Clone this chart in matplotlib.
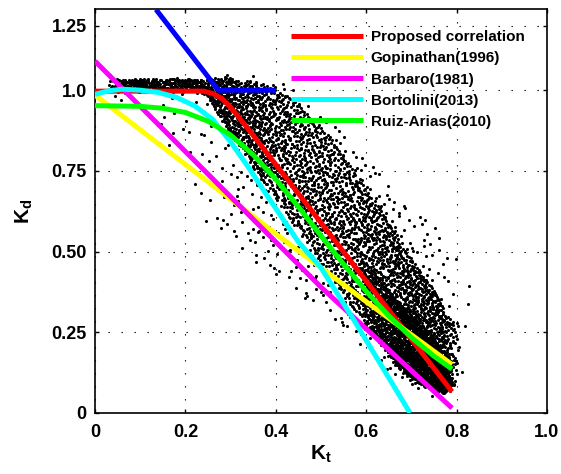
import numpy as np
import matplotlib
matplotlib.use("Agg")
import matplotlib.pyplot as plt

plt.rcParams['font.family'] = ['Liberation Sans', 'DejaVu Sans']
plt.rcParams['mathtext.fontset'] = 'custom'
plt.rcParams['mathtext.rm'] = 'Liberation Sans:bold'
plt.rcParams['mathtext.bf'] = 'Liberation Sans:bold'
plt.rcParams['mathtext.it'] = 'Liberation Sans:bold'

# ---------------- correlation curves ----------------
prop_kt = [0.0, 0.24, 0.26, 0.28, 0.30, 0.32, 0.35, 0.79]
prop_kd = [0.997, 0.997, 0.99, 0.975, 0.947, 0.913, 0.86, 0.066]

gop_kt = [0.0, 0.2, 0.4, 0.6, 0.79]
gop_kd = [0.985, 0.77, 0.555, 0.345, 0.15]

bar_kt = [0.0, 0.3, 0.5, 0.79]
bar_kd = [1.09, 0.67, 0.39, 0.015]

bor_kt = [0.0, 0.03, 0.06, 0.10, 0.14, 0.18, 0.22, 0.26, 0.30, 0.34, 0.38, 0.45, 0.50, 0.572, 0.697]
bor_kd = [0.987, 0.998, 1.003, 1.0, 0.993, 0.978, 0.952, 0.91, 0.84, 0.76, 0.675, 0.53, 0.45, 0.29, 0.0]

ruiz_kt = [0.0, 0.10, 0.15, 0.20, 0.25, 0.30, 0.35, 0.40, 0.45, 0.50, 0.55, 0.60, 0.65, 0.70, 0.75, 0.79]
ruiz_kd = [0.952, 0.950, 0.944, 0.931, 0.904, 0.861, 0.800, 0.724, 0.639, 0.549, 0.461, 0.377, 0.301, 0.234, 0.176, 0.136]

limit_kt = [0.135, 0.273, 0.40]
limit_kd = [1.25, 1.0, 1.0]

labels = ['Proposed correlation', 'Gopinathan(1996)', 'Barbaro(1981)',
          'Bortolini(2013)', 'Ruiz-Arias(2010)']
colors = ['#ff0000', '#ffff00', '#ff00ff', '#00ffff', '#00ff00']

# ---------------- scatter density (estimated per Kt column, 0.02 wide) ----------------
col_kt = [0.03, 0.05, 0.07, 0.09, 0.11, 0.13, 0.15, 0.17, 0.19, 0.21, 0.23, 0.25,
          0.27, 0.29, 0.31, 0.33, 0.35, 0.37, 0.39, 0.41, 0.43, 0.45, 0.47, 0.49,
          0.51, 0.53, 0.55, 0.57, 0.59, 0.61, 0.63, 0.65, 0.67, 0.69, 0.71, 0.73,
          0.75, 0.77, 0.79, 0.81, 0.83]
core_lo = [0.995, 0.995, 0.995, 0.995, 0.995, 0.995, 0.995, 0.995, 0.995, 0.995, 0.99, 0.98,
           0.93, 0.88, 0.84, 0.80, 0.76, 0.72, 0.68, 0.64, 0.60, 0.56, 0.52, 0.48,
           0.44, 0.40, 0.36, 0.32, 0.28, 0.25, 0.21, 0.17, 0.14, 0.11, 0.09, 0.08,
           0.07, 0.06, 0.07, 0.10, 0.20]
core_hi = [1.03, 1.035, 1.035, 1.035, 1.035, 1.035, 1.035, 1.035, 1.035, 1.035, 1.035, 1.035,
           1.04, 1.04, 1.035, 1.03, 1.03, 1.02, 1.02, 1.00, 0.98, 0.96, 0.93, 0.90,
           0.87, 0.84, 0.80, 0.76, 0.72, 0.68, 0.64, 0.60, 0.55, 0.50, 0.46, 0.42,
           0.38, 0.33, 0.28, 0.30, 0.30]
core_n = [6, 20, 30, 32, 32, 32, 32, 32, 32, 32, 32, 40,
          65, 80, 90, 95, 95, 95, 90, 88, 85, 85, 85, 85,
          90, 90, 95, 100, 105, 110, 115, 120, 130, 140, 150, 150,
          140, 110, 45, 4, 0]
halo_lo = [0.97, 0.97, 0.97, 0.97, 0.97, 0.88, 0.85, 0.80, 0.75, 0.68, 0.62, 0.58,
           0.56, 0.54, 0.52, 0.50, 0.47, 0.45, 0.43, 0.42, 0.40, 0.37, 0.35, 0.33,
           0.31, 0.28, 0.25, 0.22, 0.19, 0.16, 0.14, 0.12, 0.10, 0.08, 0.07, 0.06,
           0.05, 0.05, 0.05, 0.08, 0.15]
halo_hi = [1.05, 1.05, 1.05, 1.05, 1.05, 1.05, 1.05, 1.05, 1.05, 1.05, 1.05, 1.05,
           1.05, 1.05, 1.05, 1.05, 1.05, 1.04, 1.04, 1.03, 1.02, 1.00, 0.97, 0.95,
           0.93, 0.90, 0.87, 0.84, 0.80, 0.78, 0.74, 0.70, 0.68, 0.66, 0.62, 0.60,
           0.58, 0.55, 0.50, 0.55, 0.40]
halo_n = [2, 3, 3, 3, 3, 3, 4, 4, 4, 5, 6, 7,
          10, 12, 15, 18, 20, 22, 24, 24, 24, 26, 26, 26,
          26, 26, 26, 26, 26, 26, 26, 26, 24, 22, 20, 18,
          15, 12, 10, 4, 2]
dense_kt = [0.59, 0.61, 0.63, 0.65, 0.67, 0.69, 0.71, 0.73, 0.75, 0.77, 0.79]
dense_lo = [0.28, 0.25, 0.22, 0.18, 0.15, 0.12, 0.10, 0.08, 0.07, 0.06, 0.07]
dense_hi = [0.45, 0.45, 0.42, 0.38, 0.35, 0.32, 0.29, 0.26, 0.23, 0.20, 0.16]
dense_n = [25, 55, 70, 85, 100, 115, 125, 125, 120, 95, 30]

COL_W = 0.02


def tier_density(x, y, centers, los, his, ns):
    """points per unit area of one tier at (x, y), from the column tables"""
    lo = np.interp(x, centers, los)
    hi = np.interp(x, centers, his)
    n = np.interp(x, centers, ns, left=0.0, right=0.0)
    inside = (y >= lo) & (y <= hi)
    return np.where(inside, n / (COL_W * np.maximum(hi - lo, 1e-3)), 0.0)


def radical_inverse(i, base):
    """Halton / van der Corput sequence value for integer array i"""
    i = i.copy()
    out = np.zeros(i.shape, dtype=float)
    f = 1.0
    while np.any(i > 0):
        f /= base
        out += f * (i % base)
        i //= base
    return out


# spread the points of the cells evenly with a Halton sequence (bases 2, 3, 5)
x0, x1 = col_kt[0] - COL_W / 2, col_kt[-1] + COL_W / 2
y0, y1 = 0.0, 1.06
idx = np.arange(1, 90001)
cx = x0 + (x1 - x0) * radical_inverse(idx, 2)
cy = y0 + (y1 - y0) * radical_inverse(idx, 3)
cw = radical_inverse(idx, 5)
dens = (tier_density(cx, cy, col_kt, core_lo, core_hi, core_n)
        + tier_density(cx, cy, col_kt, halo_lo, halo_hi, halo_n)
        + tier_density(cx, cy, dense_kt, dense_lo, dense_hi, dense_n))
total = sum(core_n) + sum(halo_n) + sum(dense_n)
scale = total / dens.sum()
keep = cw < dens * scale
sx, sy = cx[keep], cy[keep]

# ---------------- figure ----------------
fig = plt.figure(figsize=(5.61, 4.74), dpi=100)
ax = fig.add_axes([0.1693, 0.1287, 0.8057, 0.8513])

ax.scatter(sx, sy, s=5, c='black', linewidths=0, zorder=2)

series = [(prop_kt, prop_kd), (gop_kt, gop_kd), (bar_kt, bar_kd),
          (bor_kt, bor_kd), (ruiz_kt, ruiz_kd)]
for (kx, ky), lab, col in zip(series, labels, colors):
    ax.plot(kx, ky, color=col, lw=3.6, label=lab, zorder=3, solid_capstyle='butt')
ax.plot(limit_kt, limit_kd, color='#0000ff', lw=3.6, zorder=4, solid_capstyle='butt')

ax.set_xlim(0, 1.0)
ax.set_ylim(0, 1.25)

xticks = [0, 0.2, 0.4, 0.6, 0.8, 1.0]
xtick_labels = ['0', '0.2', '0.4', '0.6', '0.8', '1.0']
yticks = [0, 0.25, 0.5, 0.75, 1.0, 1.2]
ytick_labels = ['0', '0.25', '0.50', '0.75', '1.0', '1.25']
ax.set_xticks(xticks)
ax.set_xticklabels(xtick_labels, fontsize=13, fontweight='bold')
ax.set_yticks(yticks)
ax.set_yticklabels(ytick_labels, fontsize=13, fontweight='bold')
ax.tick_params(direction='in', length=3, width=1, pad=6, top=True, right=True)
ax.tick_params(axis='x', pad=8)

ax.grid(True, color='black', linestyle=(0, (1.2, 10.5)), linewidth=0.8)
for sp in ax.spines.values():
    sp.set_linewidth(1.2)

ax.set_xlabel(r'$\mathrm{K}_\mathrm{t}$', fontsize=15, labelpad=2)
ax.set_ylabel(r'$\mathrm{K}_\mathrm{d}$', fontsize=15, labelpad=12)

leg = ax.legend(loc='upper left', bbox_to_anchor=(0.434, 0.948), frameon=False,
                prop={'family': 'Liberation Sans', 'weight': 'bold', 'size': 11},
                handlelength=4.7, handletextpad=0.5, labelspacing=0.46,
                borderpad=0, borderaxespad=0)

fig.savefig('out.png', dpi=100)
